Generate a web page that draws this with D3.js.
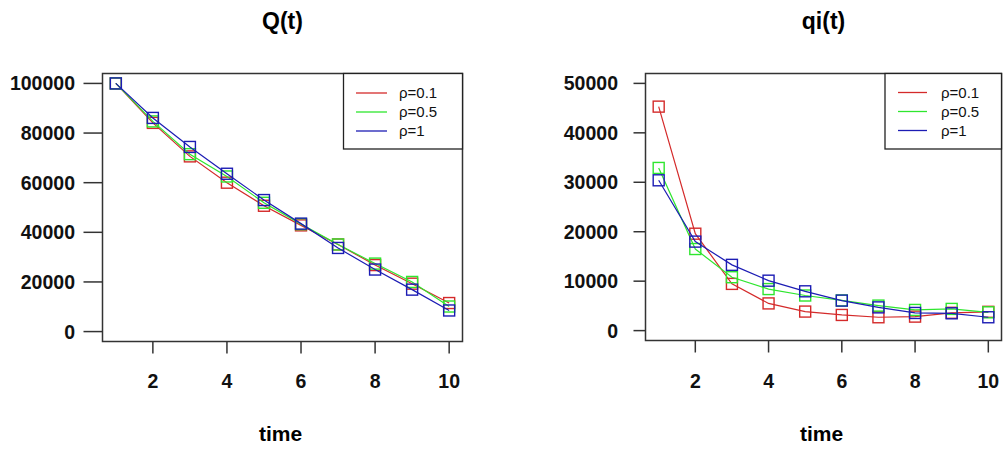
<!DOCTYPE html>
<html lang="en">
<head>
  <meta charset="UTF-8">
  <title>Q(t) and qi(t)</title>
  <script src="https://d3js.org/d3.v7.min.js"></script>
  <style>
    body { margin: 0; padding: 0; background: #fff; }
    svg { display: block; font-family: 'Liberation Sans', Arial, sans-serif; }
    .tick-label { font-size: 19.5px; font-weight: bold; fill: #111; }
    .title { font-size: 23px; font-weight: bold; fill: #000; }
    .xlab { font-size: 21px; font-weight: bold; fill: #000; }
    .legend-text { font-size: 15px; fill: #111; }
  </style>
</head>
<body>
  <div id="chart"></div>
  <script>
    // time steps
    const time = [1, 2, 3, 4, 5, 6, 7, 8, 9, 10];
    const seriesNames = ["ρ=0.1", "ρ=0.5", "ρ=1"];
    const seriesColors = ["#d42a2a", "#2ee62e", "#1c1cb4"];

    // Q(t)
    const Q_rho01 = [100000, 84100, 70600, 60000, 50700, 42800, 35100, 26800, 19300, 11500];
    const Q_rho05 = [100000, 84700, 71500, 62500, 51900, 43300, 35100, 27400, 20000, 10100];
    const Q_rho1  = [100000, 86100, 74400, 63600, 53000, 43500, 33700, 25000, 16900, 8500];

    // qi(t)
    const qi_rho01 = [45300, 19600, 9450, 5500, 3850, 3170, 2700, 2830, 3600, 3800];
    const qi_rho05 = [32900, 16500, 10800, 8400, 7100, 6100, 5060, 4180, 4390, 3700];
    const qi_rho1  = [30400, 18000, 13300, 10100, 7950, 6070, 4700, 3570, 3500, 2700];

    const xTicks = [2, 4, 6, 8, 10];
    const qTicks = [0, 20000, 40000, 60000, 80000, 100000];
    const qiTicks = [0, 10000, 20000, 30000, 40000, 50000];

    const W = 1007, H = 449;
    const svg = d3.select("#chart").append("svg")
      .attr("width", W).attr("height", H);

    const panels = [
      {
        title: "Q(t)", series: [Q_rho01, Q_rho05, Q_rho1], yTicks: qTicks,
        left: 102.5, right: 462.5, top: 73.5, bottom: 341.5,
        ymin: 0, ymax: 100000, tickLen: 19, labelRight: 75,
        legend: { x0: 343.5, y0: 73.5, x1: 462.5, y1: 149, lineX0: 356, lineX1: 387, textX: 399, rows: [93, 112, 131] }
      },
      {
        title: "qi(t)", series: [qi_rho01, qi_rho05, qi_rho1], yTicks: qiTicks,
        left: 645.5, right: 1001.5, top: 73.5, bottom: 340.5,
        ymin: 0, ymax: 50000, tickLen: 12, labelRight: 618,
        legend: { x0: 885, y0: 73.5, x1: 1001.5, y1: 149, lineX0: 898, lineX1: 927, textX: 941, rows: [92.5, 111.5, 130.5] }
      }
    ];

    panels.forEach(p => {
      const g = svg.append("g");
      // R-style 4% padding on both axes
      const xpad = (10 - 1) * 0.04;
      const ypad = (p.ymax - p.ymin) * 0.04;
      const x = d3.scaleLinear().domain([1 - xpad, 10 + xpad]).range([p.left, p.right]);
      const y = d3.scaleLinear().domain([p.ymin - ypad, p.ymax + ypad]).range([p.bottom, p.top]);
      const cx = (p.left + p.right) / 2;

      // title and x label
      g.append("text").attr("class", "title").attr("x", cx).attr("y", 29)
        .attr("text-anchor", "middle").text(p.title);
      g.append("text").attr("class", "xlab").attr("x", cx - 2).attr("y", 441)
        .attr("text-anchor", "middle").text("time");

      // y ticks
      p.yTicks.forEach(t => {
        g.append("line")
          .attr("x1", p.left - p.tickLen).attr("x2", p.left)
          .attr("y1", y(t)).attr("y2", y(t))
          .attr("stroke", "#333").attr("stroke-width", 1.5);
        g.append("text").attr("class", "tick-label")
          .attr("x", p.labelRight).attr("y", y(t) + 7)
          .attr("text-anchor", "end").text(t);
      });

      // x ticks
      xTicks.forEach(t => {
        g.append("line")
          .attr("x1", x(t)).attr("x2", x(t))
          .attr("y1", p.bottom).attr("y2", p.bottom + 12)
          .attr("stroke", "#333").attr("stroke-width", 1.5);
        g.append("text").attr("class", "tick-label")
          .attr("x", x(t)).attr("y", 388)
          .attr("text-anchor", "middle").text(t);
      });

      // series
      const line = d3.line().x((d, i) => x(time[i])).y(d => y(d));
      p.series.forEach((s, k) => {
        g.append("path").datum(s)
          .attr("d", line)
          .attr("fill", "none")
          .attr("stroke", seriesColors[k])
          .attr("stroke-width", 1.2);
        g.selectAll(null).data(s).enter().append("rect")
          .attr("x", (d, i) => x(time[i]) - 5.5)
          .attr("y", d => y(d) - 5.5)
          .attr("width", 11).attr("height", 11)
          .attr("fill", "none")
          .attr("stroke", seriesColors[k])
          .attr("stroke-width", 1.4);
      });

      // plot box
      g.append("rect")
        .attr("x", p.left).attr("y", p.top)
        .attr("width", p.right - p.left).attr("height", p.bottom - p.top)
        .attr("fill", "none").attr("stroke", "#333").attr("stroke-width", 1.5);

      // legend
      const L = p.legend;
      g.append("rect")
        .attr("x", L.x0).attr("y", L.y0)
        .attr("width", L.x1 - L.x0).attr("height", L.y1 - L.y0)
        .attr("fill", "#fff").attr("stroke", "#222").attr("stroke-width", 1.3);
      seriesNames.forEach((name, k) => {
        g.append("line")
          .attr("x1", L.lineX0).attr("x2", L.lineX1)
          .attr("y1", L.rows[k]).attr("y2", L.rows[k])
          .attr("stroke", seriesColors[k]).attr("stroke-width", 1.3);
        g.append("text").attr("class", "legend-text")
          .attr("x", L.textX).attr("y", L.rows[k] + 5)
          .text(name);
      });
    });
  </script>
</body>
</html>
